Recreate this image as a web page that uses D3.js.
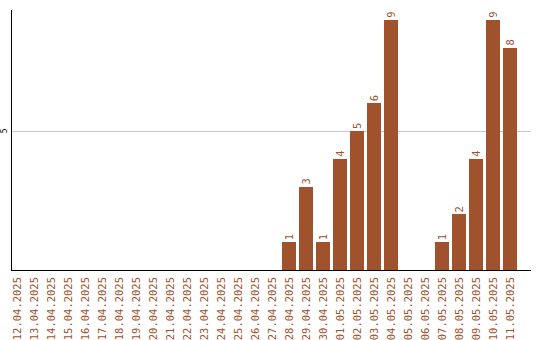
<!DOCTYPE html>
<html>
<head>
<meta charset="utf-8">
<script src="https://cdn.jsdelivr.net/npm/d3@7"></script>
<style>
  body { margin: 0; background: #fff; }
  svg text { font-family: "DejaVu Sans Mono", monospace; }
</style>
</head>
<body>
<div id="Chart"></div>
<script>
// dates on the x axis
var dates = ["12.04.2025","13.04.2025","14.04.2025","15.04.2025","16.04.2025","17.04.2025",
             "18.04.2025","19.04.2025","20.04.2025","21.04.2025","22.04.2025","23.04.2025",
             "24.04.2025","25.04.2025","26.04.2025","27.04.2025","28.04.2025","29.04.2025",
             "30.04.2025","01.05.2025","02.05.2025","03.05.2025","04.05.2025","05.05.2025",
             "06.05.2025","07.05.2025","08.05.2025","09.05.2025","10.05.2025","11.05.2025"];
// count per day
var counts = [0,0,0,0,0,0,0,0,0,0,0,0,0,0,0,0,1,3,1,4,5,6,9,0,0,1,2,4,9,8];
var yTicks = [5];

var width = 540, height = 340;
var plotLeft = 11, plotRight = 531, plotTop = 10, plotBottom = 270;

var svg = d3.select("#Chart")
            .append("svg")
            .attr("width", width)
            .attr("height", height);

var data = dates.map((d, i) => ({date: d, value: counts[i]}));

var x = d3.scaleBand()
          .domain(dates)
          .range([8.5, 518.5])
          .paddingInner(3 / 17)
          .paddingOuter(3 / 34);

var y = d3.scaleLinear()
          .domain([0, 9.35])
          .range([plotBottom, plotTop]);

// grid line
svg.selectAll("line.grid")
   .data(yTicks)
   .enter()
   .append("line")
   .attr("class", "grid")
   .attr("x1", plotLeft).attr("x2", plotRight)
   .attr("y1", d => Math.round(y(d)) + 0.5)
   .attr("y2", d => Math.round(y(d)) + 0.5)
   .attr("stroke", "#c8c8c8");

// y tick labels (rotated)
svg.selectAll("text.ytick")
   .data(yTicks)
   .enter()
   .append("text")
   .attr("class", "ytick")
   .attr("transform", d => "translate(7," + y(d) + ") rotate(-90)")
   .attr("text-anchor", "middle")
   .style("font-size", "8px")
   .attr("fill", "#000")
   .text(d => d);

// bars
svg.selectAll("rect.bar")
   .data(data.filter(d => d.value > 0))
   .enter()
   .append("rect")
   .attr("class", "bar")
   .attr("x", d => x(d.date))
   .attr("width", x.bandwidth())
   .attr("y", d => y(d.value))
   .attr("height", d => y(0) - y(d.value))
   .attr("fill", "#a0522d")
   .attr("shape-rendering", "crispEdges");

// value labels
svg.selectAll("text.value")
   .data(data.filter(d => d.value > 0))
   .enter()
   .append("text")
   .attr("class", "value")
   .attr("transform", d => "translate(" + (x(d.date) + x.bandwidth() / 2 + 3.5) + "," + (y(d.value) - 2) + ") rotate(-90)")
   .attr("text-anchor", "start")
   .style("font-size", "10.5px")
   .attr("fill", "#a0522d")
   .text(d => d.value);

// axes lines
svg.append("line")
   .attr("x1", plotLeft + 0.5).attr("x2", plotLeft + 0.5)
   .attr("y1", plotTop).attr("y2", plotBottom)
   .attr("stroke", "#000");
svg.append("line")
   .attr("x1", plotLeft).attr("x2", plotRight)
   .attr("y1", plotBottom + 0.5).attr("y2", plotBottom + 0.5)
   .attr("stroke", "#000");

// x labels
svg.selectAll("text.xlabel")
   .data(dates)
   .enter()
   .append("text")
   .attr("class", "xlabel")
   .attr("transform", d => "translate(" + (x(d) + x.bandwidth() / 2 + 3.5) + ",277) rotate(-90)")
   .attr("text-anchor", "end")
   .style("font-size", "10.5px")
   .attr("fill", "#a0522d")
   .text(d => d);
</script>
</body>
</html>
